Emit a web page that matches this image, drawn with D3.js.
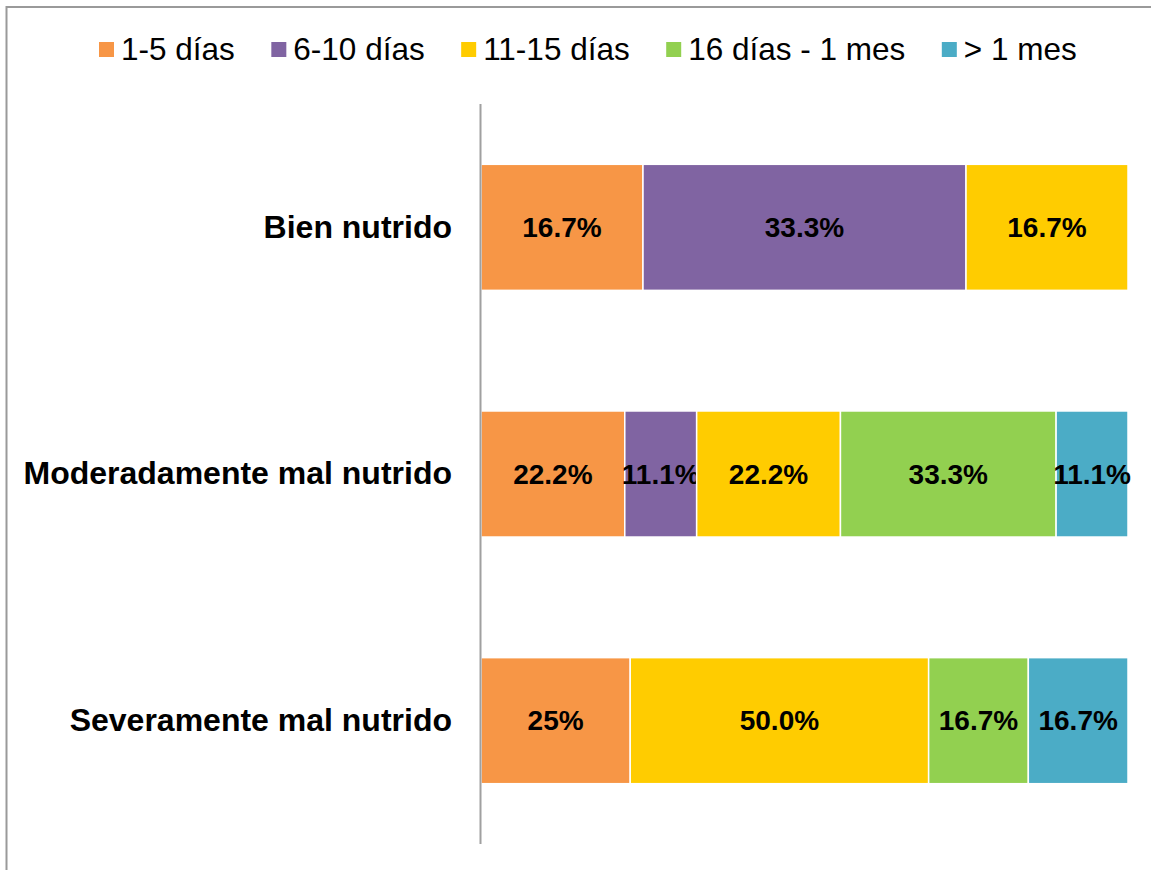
<!DOCTYPE html>
<html lang="es">
  <head>
    <meta charset="utf-8">
    <title>Días por estado nutricional</title>
    <script src="https://cdn.jsdelivr.net/npm/d3@7"></script>
    <style>
      body { margin: 0; background: #fff; }
      text { font-family: "Liberation Sans", Arial, sans-serif; }
    </style>
  </head>
  <body>
    <script>

      // categories and series
      var categories = ["Bien nutrido", "Moderadamente mal nutrido", "Severamente mal nutrido"];
      var series = ["1-5 días", "6-10 días", "11-15 días", "16 días - 1 mes", "> 1 mes"];
      var colors = ["#F79646", "#8064A2", "#FFCC00", "#92D050", "#4BACC6"];

      // values per series (one per category)
      var dias1a5   = [16.7, 22.2, 25];
      var dias6a10  = [33.3, 11.1, 0];
      var dias11a15 = [16.7, 22.2, 50];
      var dias16a1m = [0, 33.3, 16.7];
      var masDe1m   = [0, 11.1, 16.7];

      // label text as printed on the bars
      var lbl1a5   = ["16.7%", "22.2%", "25%"];
      var lbl6a10  = ["33.3%", "11.1%", ""];
      var lbl11a15 = ["16.7%", "22.2%", "50.0%"];
      var lbl16a1m = ["", "33.3%", "16.7%"];
      var lblMas1m = ["", "11.1%", "16.7%"];

      var allValues = [dias1a5, dias6a10, dias11a15, dias16a1m, masDe1m];
      var allLabels = [lbl1a5, lbl6a10, lbl11a15, lbl16a1m, lblMas1m];

      //Width and height
      var w = 1151;
      var h = 870;

      // build the table d3.stack needs
      var table = categories.map(function(c, i) {
        var row = { cat: c };
        series.forEach(function(s, j) { row[s] = allValues[j][i]; });
        return row;
      });

      var stacked = d3.stack()
                      .keys(series)
                      .offset(d3.stackOffsetExpand)(table);

      var xScale = d3.scaleLinear()
                     .domain([0, 1])
                     .range([481, 1128]);

      var yScale = d3.scaleBand()
                     .domain(categories)
                     .range([104, 844])
                     .paddingInner(0.489)
                     .paddingOuter(0.2445);

      var svg = d3.select("body")
                  .append("svg")
                  .attr("width", w)
                  .attr("height", h);

      // outer border (right / bottom fall outside the picture)
      svg.append("rect")
         .attr("x", 6.5)
         .attr("y", 7)
         .attr("width", w + 20)
         .attr("height", h + 20)
         .attr("fill", "none")
         .attr("stroke", "#9a9a9a")
         .attr("stroke-width", 2);

      // bars
      var groups = svg.selectAll("g.serie")
                      .data(stacked)
                      .enter()
                      .append("g")
                      .attr("class", "serie")
                      .attr("fill", function(d, i) { return colors[i]; });

      groups.selectAll("rect")
            .data(function(d) { return d; })
            .enter()
            .append("rect")
            .attr("x", function(d) { return xScale(d[0]); })
            .attr("y", function(d) { return yScale(d.data.cat); })
            .attr("width", function(d) { return xScale(d[1]) - xScale(d[0]); })
            .attr("height", yScale.bandwidth())
            .attr("stroke", "#fff")
            .attr("stroke-width", 1.5);

      // bar labels
      groups.each(function(s, j) {
        d3.select(this).selectAll("text")
          .data(s)
          .enter()
          .append("text")
          .attr("x", function(d) { return (xScale(d[0]) + xScale(d[1])) / 2; })
          .attr("y", function(d) { return yScale(d.data.cat) + yScale.bandwidth() / 2; })
          .attr("dy", "0.35em")
          .attr("text-anchor", "middle")
          .attr("fill", "#000")
          .style("font-size", "28px")
          .style("font-weight", "bold")
          .text(function(d, i) { return allLabels[j][i]; });
      });

      // Y axis (line only, labels on the left)
      var yAxis = d3.axisLeft(yScale).tickSize(0).tickPadding(29);
      var gy = svg.append("g")
                  .attr("transform", "translate(481,0)")
                  .call(yAxis);
      gy.select(".domain").remove();
      gy.selectAll("text")
        .attr("fill", "#000")
        .style("font-family", "'Liberation Sans', Arial, sans-serif")
        .style("font-size", "32px")
        .style("font-weight", "bold");

      svg.append("line")
         .attr("x1", 480.5).attr("x2", 480.5)
         .attr("y1", 104).attr("y2", 844)
         .attr("stroke", "#a0a0a0")
         .attr("stroke-width", 2);

      // legend
      var legend = svg.append("g").attr("transform", "translate(99,0)");
      var lx = 0;
      series.forEach(function(s, i) {
        var item = legend.append("g").attr("transform", "translate(" + lx + ",0)");
        item.append("rect")
            .attr("x", 0).attr("y", 42)
            .attr("width", 15).attr("height", 15)
            .attr("fill", colors[i]);
        var t = item.append("text")
            .attr("x", 22).attr("y", 60)
            .attr("fill", "#000")
            .style("font-size", "31.5px")
            .text(s);
        lx += 22 + t.node().getComputedTextLength() + 36.5;
      });

    </script>
  </body>
</html>
